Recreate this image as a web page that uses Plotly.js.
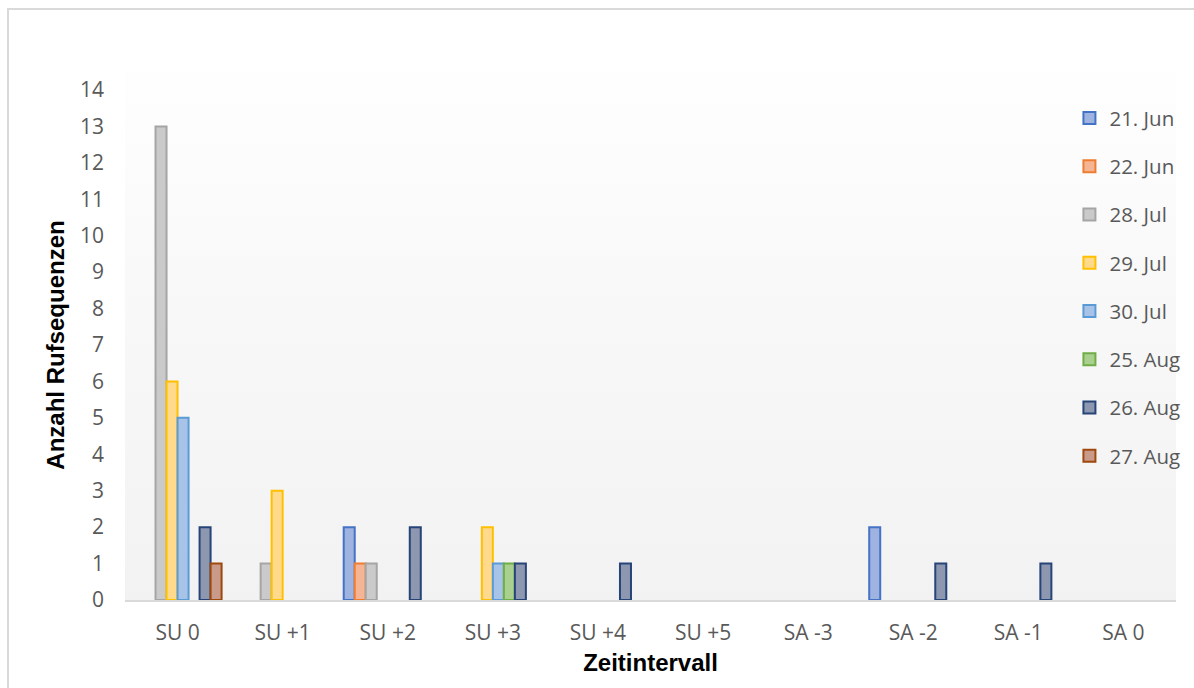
<!DOCTYPE html>
<html>
<head>
<meta charset="utf-8">
<script src="https://cdn.plot.ly/plotly-3.0.1.min.js"></script>
<style>
  html, body { margin: 0; padding: 0; background: #ffffff; }
  #wrap { position: relative; width: 1194px; height: 688px; overflow: hidden; }
  #frame { position: absolute; left: 7px; top: 8px; width: 1300px; height: 800px;
           border: 2px solid #d9d9d9; box-sizing: border-box; }
  #plotbg { position: absolute; left: 125px; top: 40px; width: 1051px; height: 560px;
            background: linear-gradient(to bottom, #ffffff 0%, #f9f9f9 40%, #f2f2f2 100%); }
  #chart { position: absolute; left: 0; top: 0; width: 1194px; height: 688px; }
</style>
</head>
<body>
<div id="wrap">
  <div id="frame"></div>
  <div id="plotbg"></div>
  <div id="chart"></div>
</div>
<script>
// Time intervals around sunrise (SU) and sunset (SA)
const categories = ['SU 0', 'SU +1', 'SU +2', 'SU +3', 'SU +4', 'SU +5', 'SA -3', 'SA -2', 'SA -1', 'SA 0'];

// Number of call sequences per recording night
const jun21 = [0, 0, 2, 0, 0, 0, 0, 2, 0, 0];
const jun22 = [0, 0, 1, 0, 0, 0, 0, 0, 0, 0];
const jul28 = [13, 1, 1, 0, 0, 0, 0, 0, 0, 0];
const jul29 = [6, 3, 0, 2, 0, 0, 0, 0, 0, 0];
const jul30 = [5, 0, 0, 1, 0, 0, 0, 0, 0, 0];
const aug25 = [0, 0, 0, 1, 0, 0, 0, 0, 0, 0];
const aug26 = [2, 0, 2, 1, 1, 0, 0, 1, 1, 0];
const aug27 = [1, 0, 0, 0, 0, 0, 0, 0, 0, 0];

const seriesNames = ['21. Jun', '22. Jun', '28. Jul', '29. Jul', '30. Jul', '25. Aug', '26. Aug', '27. Aug'];
const seriesValues = [jun21, jun22, jul28, jul29, jul30, aug25, aug26, aug27];
const fillColors = ['#9fb3e1', '#f5b494', '#cacaca', '#ffd98c', '#a7c4e8', '#a9d08e', '#8e97b0', '#c99a8a'];
const lineColors = ['#4472c4', '#ed7d31', '#a5a5a5', '#ffc000', '#5b9bd5', '#70ad47', '#264478', '#9e480e'];

const textColor = '#595959';
const tickFont = { family: '"Open Sans", sans-serif', size: 21, color: textColor };
const legendFont = { family: '"Open Sans", sans-serif', size: 20.5, color: textColor };
const titleFont = { family: '"Liberation Sans", Arial, sans-serif', size: 24, color: '#000000', weight: 'bold' };

// Zero counts are left empty so that no outline is stroked along the axis
const traces = seriesNames.map((name, i) => ({
  type: 'bar',
  name: name,
  x: categories,
  y: seriesValues[i].map(v => (v === 0 ? null : v)),
  legendgroup: 'g' + i,
  marker: { color: fillColors[i], line: { color: lineColors[i], width: 2 } },
  hoverinfo: 'skip'
}));

const layout = {
  width: 1194,
  height: 688,
  margin: { l: 125, r: 18, t: 90, b: 88, autoexpand: false },
  paper_bgcolor: 'rgba(0,0,0,0)',
  plot_bgcolor: 'rgba(0,0,0,0)',
  barmode: 'group',
  bargap: 0.162,
  bargroupgap: 0,
  showlegend: true,
  legend: {
    x: 0.8986, xanchor: 'left',
    y: 0.984, yanchor: 'top',
    bgcolor: 'rgba(0,0,0,0)',
    font: legendFont,
    tracegroupgap: 18.6,
    itemclick: false
  },
  xaxis: {
    type: 'category',
    showgrid: false,
    zeroline: false,
    showline: true,
    linecolor: '#d9d9d9',
    linewidth: 2,
    ticks: '',
    ticklabelstandoff: 13,
    tickfont: tickFont,
    title: { text: 'Zeitintervall', font: titleFont, standoff: 9 }
  },
  yaxis: {
    range: [0, 14],
    dtick: 1,
    showgrid: false,
    zeroline: false,
    showline: false,
    ticks: '',
    ticklabelstandoff: 20,
    tickfont: tickFont,
    title: { text: 'Anzahl Rufsequenzen', font: titleFont, standoff: 8 }
  }
};

Plotly.newPlot('chart', traces, layout, { staticPlot: true, displayModeBar: false });
</script>
</body>
</html>
